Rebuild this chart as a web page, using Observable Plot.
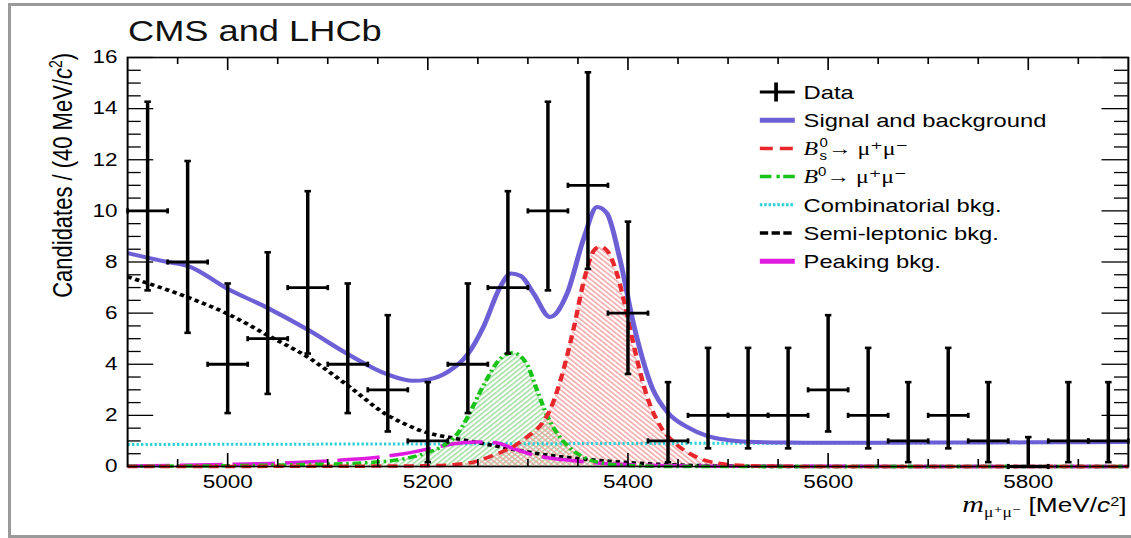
<!DOCTYPE html>
<html><head><meta charset="utf-8">
<script src="https://cdn.jsdelivr.net/npm/d3@7"></script>
<script src="https://cdn.jsdelivr.net/npm/@observablehq/plot@0.6"></script>
<style>
html,body{margin:0;padding:0;background:#fff;overflow:hidden;width:1131px;height:538px;}
#wrap{position:absolute;left:0;top:0;width:905px;height:538px;transform:scaleX(1.2497);transform-origin:0 0;}
#border{position:absolute;left:8px;top:3px;width:1150px;height:535px;border:3px solid #9a9a9a;box-sizing:border-box;pointer-events:none;z-index:2;}
</style></head>
<body>
<svg width="0" height="0" style="position:absolute">
  <defs>
    <pattern id="hatchRed" patternUnits="userSpaceOnUse" width="3.4" height="3.4" patternTransform="rotate(-45)">
      <line x1="0.7" y1="0" x2="0.7" y2="3.4" stroke="#f29a9a" stroke-width="1.25"/>
    </pattern>
    <pattern id="hatchGreen" patternUnits="userSpaceOnUse" width="3.4" height="3.4" patternTransform="rotate(45)">
      <line x1="0.7" y1="0" x2="0.7" y2="3.4" stroke="#96d996" stroke-width="1.25"/>
    </pattern>
  </defs>
</svg>
<div id="wrap"></div>
<div id="border"></div>
<script>
// ---------- data ----------
const binWidth = 40;
const binCenters = [4920,4960,5000,5040,5080,5120,5160,5200,5240,5280,5320,5360,5400,5440,5480,5520,5560,5600,5640,5680,5720,5760,5800,5840,5880];
const counts     = [10,8,4,5,7,4,3,1,4,7,10,11,6,1,2,2,2,3,2,1,2,1,0,1,1];
const errLow     = [6.89,5.23,2.09,2.84,4.42,2.09,1.37,0.17,2.09,4.42,6.89,7.73,3.62,0.17,0.71,0.71,0.71,1.37,0.71,0.17,0.71,0.17,0,0.17,0.17];
const errHigh    = [14.27,11.95,7.16,8.38,10.77,7.16,5.92,3.30,7.16,10.77,14.27,15.42,9.58,3.30,4.64,4.64,4.64,5.92,4.64,3.30,4.64,3.30,1.15,3.30,3.30];

// Signal and background (total fit)
const totalMass = [4900,4940,4960,5000,5040,5080,5120,5160,5185,5200,5220,5240,5256,5272,5283,5293,5306,5322,5339,5356,5369,5379,5392,5406,5424,5440,5459,5479,5499,5520,5560,5600,5700,5800,5900];
const totalFit  = [8.35,8.0,7.85,6.95,6.2,5.35,4.4,3.6,3.35,3.4,3.7,4.4,5.5,7.0,7.55,7.45,6.75,5.85,6.75,8.95,10.15,9.9,8.1,5.5,3.1,2.1,1.55,1.2,1.04,0.97,0.935,0.93,0.935,0.945,0.955];
// Bs -> mu mu
const bsMass = [4900,5100,5200,5240,5265,5287,5301,5315,5322,5332,5346,5356,5366,5372,5379,5389,5399,5406,5419,5432,5446,5462,5479,5500,5530,5600,5900];
const bsFit  = [0.0,0.01,0.03,0.13,0.43,0.82,1.21,1.73,2.2,3.3,5.45,7.28,8.45,8.6,8.45,7.54,5.97,4.7,2.75,1.6,0.95,0.5,0.22,0.08,0.02,0.0,0.0];
// B0 -> mu mu
const bdMass = [4900,5000,5080,5130,5176,5200,5215,5230,5240,5256,5272,5285,5299,5309,5319,5332,5346,5359,5380,5400,5450,5900];
const bdFit  = [0.01,0.03,0.08,0.13,0.3,0.55,0.8,1.3,1.95,3.2,4.2,4.45,4.0,3.0,2.0,1.15,0.6,0.3,0.1,0.04,0.0,0.0];
// Combinatorial background
const combMass = [4900,5400,5900];
const combFit  = [0.86,0.9,0.94];
// Semi-leptonic background
const semiMass = [4900,4960,5000,5040,5080,5120,5160,5175,5193,5230,5266,5301,5337,5373,5408,5440,5480,5520,5600,5900];
const semiFit  = [7.42,6.62,5.97,5.13,4.28,3.17,2.0,1.7,1.4,1.08,0.82,0.56,0.36,0.23,0.13,0.07,0.03,0.01,0.0,0.0];
// Peaking background
const peakMass = [4900,5000,5050,5105,5150,5176,5201,5226,5248,5268,5287,5308,5337,5373,5420,5500,5900];
const peakFit  = [0.02,0.08,0.13,0.23,0.36,0.5,0.69,0.89,0.96,0.93,0.68,0.43,0.26,0.13,0.05,0.01,0.0];

// ticks
const xMajor = [5000,5200,5400,5600,5800];
const xMinor = [4950,5050,5100,5150,5250,5300,5350,5450,5500,5550,5650,5700,5750,5850];
const yMajor = [0,2,4,6,8,10,12,14,16];
const yMinor = [0.5,1,1.5,2.5,3,3.5,4.5,5,5.5,6.5,7,7.5,8.5,9,9.5,10.5,11,11.5,12.5,13,13.5,14.5,15,15.5];

const titleText = "CMS and LHCb";

// ---------- styling ----------
const C = {blue:"#6d5fd5", red:"#e8262b", green:"#19c419", cyan:"#27cfd6", magenta:"#e01be0", black:"#000"};
const W = 905, H = 538;
const mL = 101.6, mR = W - 902.4, mT = 57, mB = 72;
const plotW = W - mL - mR, plotH = H - mT - mB;
const SANS = "'Liberation Sans', Arial, Helvetica, sans-serif";
const SERIF = "'Liberation Serif', 'DejaVu Serif', 'Times New Roman', serif";

const pts = (ms, vs) => ms.map((m, i) => ({m, v: vs[i]}));
const data = binCenters.map((m, i) => ({m, n: counts[i], lo: errLow[i], hi: errHigh[i]}));

const hcap = {draw(ctx, size) { const r = Math.sqrt(size / Math.PI); ctx.moveTo(-r, 0); ctx.lineTo(r, 0); }};
const vcap = {draw(ctx, size) { const r = Math.sqrt(size / Math.PI); ctx.moveTo(0, -r); ctx.lineTo(0, r); }};

const lineOpts = (stroke, width, dash) => ({x: "m", y: "v", stroke, strokeWidth: width, strokeDasharray: dash,
  strokeLinecap: "butt", strokeLinejoin: "round", curve: "monotone-x"});

const chart = Plot.plot({
  width: W, height: H,
  marginLeft: mL, marginRight: mR, marginTop: mT, marginBottom: mB,
  x: {domain: [4900, 5900], axis: null},
  y: {domain: [0, 16], axis: null},
  style: {fontFamily: SANS, fontSize: "18px", color: "#000", background: "transparent", overflow: "visible"},
  marks: [
    Plot.areaY(pts(bdMass, bdFit), {x: "m", y: "v", fill: "url(#hatchGreen)", curve: "monotone-x"}),
    Plot.areaY(pts(bsMass, bsFit), {x: "m", y: "v", fill: "url(#hatchRed)", curve: "monotone-x"}),
    Plot.line(pts(combMass, combFit), {x: "m", y: "v", stroke: C.cyan, strokeWidth: 3, strokeDasharray: "1.8,1.8", strokeLinecap: "butt"}),
    Plot.line(pts(semiMass, semiFit), lineOpts(C.black, 3.6, "3.5,3")),
    Plot.line(pts(peakMass, peakFit), lineOpts(C.magenta, 3.5, "34,8")),
    Plot.line(pts(bdMass, bdFit), lineOpts(C.green, 3.5, "7,3,2,3")),
    Plot.line(pts(bsMass, bsFit), lineOpts(C.red, 3.5, "8,5")),
    Plot.line(pts(totalMass, totalFit), lineOpts(C.blue, 4, null)),
    // data points with Poisson error bars
    Plot.ruleX(data, {x: "m", y1: "lo", y2: "hi", stroke: "black", strokeWidth: 2.8}),
    Plot.ruleY(data, {y: "n", x1: d => d.m - binWidth / 2, x2: d => d.m + binWidth / 2, stroke: "black", strokeWidth: 2.8}),
    Plot.dot(data, {x: "m", y: "hi", symbol: hcap, r: 2.6, stroke: "black", strokeWidth: 2.6, fill: "none"}),
    Plot.dot(data, {x: "m", y: "lo", symbol: hcap, r: 2.6, stroke: "black", strokeWidth: 2.6, fill: "none"}),
    Plot.dot(data, {x: d => d.m - binWidth / 2, y: "n", symbol: vcap, r: 2.6, stroke: "black", strokeWidth: 2.2, fill: "none"}),
    Plot.dot(data, {x: d => d.m + binWidth / 2, y: "n", symbol: vcap, r: 2.6, stroke: "black", strokeWidth: 2.2, fill: "none"}),
    // frame and inward ticks
    Plot.frame({stroke: "black", strokeWidth: 1.6}),
    Plot.tickX(xMajor, {x: d => d, insetTop: plotH - 13, stroke: "black", strokeWidth: 1.3}),
    Plot.tickX(xMinor, {x: d => d, insetTop: plotH - 7, stroke: "black", strokeWidth: 1.3}),
    Plot.tickX(xMajor, {x: d => d, insetBottom: plotH - 13, stroke: "black", strokeWidth: 1.3}),
    Plot.tickX(xMinor, {x: d => d, insetBottom: plotH - 7, stroke: "black", strokeWidth: 1.3}),
    Plot.tickY(yMajor, {y: d => d, insetRight: plotW - 21, stroke: "black", strokeWidth: 1.3}),
    Plot.tickY(yMinor, {y: d => d, insetRight: plotW - 11, stroke: "black", strokeWidth: 1.3}),
    Plot.tickY(yMajor, {y: d => d, insetLeft: plotW - 21, stroke: "black", strokeWidth: 1.3}),
    Plot.tickY(yMinor, {y: d => d, insetLeft: plotW - 11, stroke: "black", strokeWidth: 1.3}),
    Plot.axisX(xMajor, {anchor: "bottom", tickSize: 0, tickPadding: 9, tickFormat: "d", fontSize: 18, label: null}),
    Plot.axisY(yMajor, {anchor: "left", tickSize: 0, tickPadding: 8, tickFormat: "d", fontSize: 18, label: null})
  ]
});
document.getElementById("wrap").appendChild(chart);

// ---------- title, axis titles, legend ----------
const svg = d3.select(chart);

svg.append("text").attr("x", 102.4).attr("y", 41).attr("font-size", 29)
  .attr("text-anchor", "start").attr("fill", "#111").attr("font-family", SANS).text(titleText);

// y title
const yt = svg.append("text").attr("transform", "translate(57.4,53) rotate(-90)")
  .attr("text-anchor", "end").attr("font-size", 22).attr("font-family", SANS).attr("fill", "#000");
yt.append("tspan").text("Candidates / (40 MeV/");
yt.append("tspan").attr("font-style", "italic").text("c");
yt.append("tspan").attr("font-size", 14).attr("dy", -8).text("2");
yt.append("tspan").attr("dy", 8).text(")");

// x title
const xt = svg.append("text").attr("x", 901.4).attr("y", 512)
  .attr("text-anchor", "end").attr("font-size", 21).attr("font-family", SANS).attr("fill", "#000");
xt.append("tspan").attr("font-family", SERIF).attr("font-style", "italic").attr("font-size", 24).text("m");
xt.append("tspan").attr("font-family", SERIF).attr("font-size", 14).attr("dy", 5).text("μ⁺μ⁻");
xt.append("tspan").attr("dy", -5).text(" [MeV/");
xt.append("tspan").attr("font-style", "italic").text("c");
xt.append("tspan").attr("font-size", 13).attr("dy", -6).text("2");
xt.append("tspan").attr("dy", 6).text("]");

// legend
const lg = svg.append("g").attr("font-family", SANS).attr("font-size", 19).attr("fill", "#000");
const rowY = i => 92 + i * 28.2;
const sx0 = 608, sx1 = 636, tx = 643;
function seg(i, stroke, width, dash) {
  lg.append("line").attr("x1", sx0).attr("x2", sx1).attr("y1", rowY(i)).attr("y2", rowY(i))
    .attr("stroke", stroke).attr("stroke-width", width).attr("stroke-dasharray", dash);
}
function label(i, x = tx, dy = 6.8) {
  return lg.append("text").attr("x", x).attr("y", rowY(i) + dy).attr("text-anchor", "start");
}
// Data
seg(0, "#000", 3, null);
lg.append("line").attr("x1", 621).attr("x2", 621).attr("y1", rowY(0) - 9.5).attr("y2", rowY(0) + 9.5).attr("stroke", "#000").attr("stroke-width", 3);
label(0).text("Data");
seg(1, C.blue, 5, null); label(1).text("Signal and background");
seg(2, C.red, 3.5, "10.4,5.6");
label(2).append("tspan").attr("font-family", SERIF).attr("font-style", "italic").text("B");
label(2, tx + 12.7, -1.5).attr("font-size", 12).text("0");
label(2, tx + 12.7, 11.5).attr("font-size", 12).text("s");
label(2, tx + 19.5).attr("font-family", SERIF).text("→ μ⁺μ⁻");
seg(3, C.green, 3.5, "9.3,4,2.7,2.7,9.3");
{
  const t = label(3);
  t.append("tspan").attr("font-family", SERIF).attr("font-style", "italic").text("B");
  t.append("tspan").attr("font-size", 12).attr("dy", -7).text("0");
  t.append("tspan").attr("dy", 7).attr("font-family", SERIF).text("→ μ⁺μ⁻");
}
seg(4, C.cyan, 3, "2,1.5"); label(4).text("Combinatorial bkg.");
seg(5, "#000", 3.5, "6.7,2.7"); label(5).text("Semi-leptonic bkg.");
seg(6, C.magenta, 5, null); label(6).text("Peaking bkg.");
</script>
</body></html>
